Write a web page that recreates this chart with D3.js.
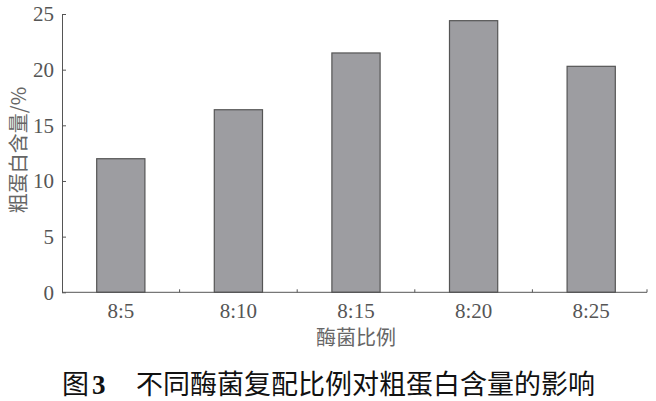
<!DOCTYPE html>
<html><head><meta charset="utf-8">
<script src="https://cdn.jsdelivr.net/npm/d3@7"></script>
<style>body{margin:0;background:#fff}svg{display:block}</style>
</head><body><svg id="c" width="656" height="401"></svg>
<script>
const categories = ["8:5","8:10","8:15","8:20","8:25"];
const values = [12.0, 16.4, 21.5, 24.4, 20.3];
const yTicks = [0,5,10,15,20,25];
const xTitle = "酶菌比例";
const yTitle = "粗蛋白含量/%";
const caption = "不同酶菌复配比例对粗蛋白含量的影响";

const svg = d3.select("#c");
const serif = "'Liberation Serif','DejaVu Serif',serif";
const cjk = "'Noto Sans CJK SC','Noto Sans',sans-serif";
const x = d3.scaleBand().domain(categories).range([62, 650]).paddingInner(0.59).paddingOuter(0.295);
const y = d3.scaleLinear().domain([0,25]).range([292.3, 14]);

// bars
svg.selectAll("rect.bar").data(values).enter().append("rect")
  .attr("x",(d,i)=>x(categories[i])).attr("width",x.bandwidth())
  .attr("y",d=>y(d)).attr("height",d=>y(0)-y(d))
  .attr("fill","#9d9da1").attr("stroke","#555").attr("stroke-width",1.2);

// y axis
const ya = svg.append("g").attr("transform","translate(62,0)")
  .call(d3.axisLeft(y).tickValues(yTicks).tickSizeInner(-4).tickSizeOuter(0).tickPadding(8));
ya.select(".domain").attr("stroke","#555");
ya.selectAll(".tick line").attr("stroke","#555");
ya.selectAll("text").attr("font-family",serif).attr("font-size",21).attr("fill","#555");

// x axis
const boundaries = d3.range(categories.length+1).map(i=>62 + i*x.step() - (i===categories.length?3:0));
svg.append("line").attr("x1",62).attr("x2",boundaries[boundaries.length-1]).attr("y1",y(0)).attr("y2",y(0)).attr("stroke","#555");
svg.selectAll("line.bt").data(boundaries.slice(1)).enter().append("line")
  .attr("x1",d=>d).attr("x2",d=>d).attr("y1",y(0)).attr("y2",y(0)-3).attr("stroke","#555");
svg.selectAll("text.xl").data(categories).enter().append("text")
  .attr("x",d=>x(d)+x.bandwidth()/2).attr("y",318)
  .attr("text-anchor","middle").attr("font-family",serif).attr("font-size",21).attr("fill","#555").text(d=>d);

// titles
svg.append("text").attr("x",356).attr("y",345).attr("text-anchor","middle")
  .attr("font-family",cjk).attr("font-size",20).attr("fill","#666").text(xTitle);
svg.append("text").attr("transform","translate(26,150) rotate(-90)").attr("text-anchor","middle")
  .attr("font-family",cjk).attr("font-size",20).attr("fill","#666").text(yTitle);

// caption
const cap = svg.append("text").attr("y",394).attr("font-size",27).attr("fill","#111");
cap.append("tspan").attr("x",62).attr("font-family",cjk).text("图");
cap.append("tspan").attr("dx",3).attr("font-family",serif).attr("font-weight","bold").text("3");
cap.append("tspan").attr("x",136).attr("font-family",cjk).text(caption);
</script></body></html>
